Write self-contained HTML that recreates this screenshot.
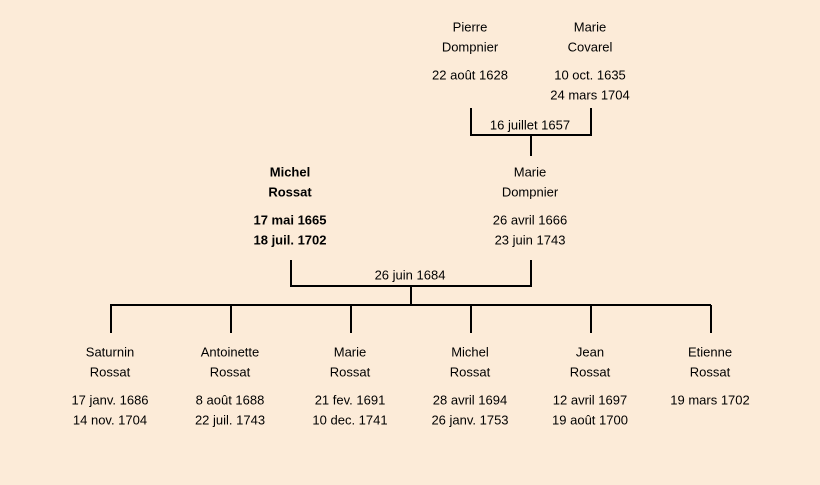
<!DOCTYPE html>
<html><head><meta charset="utf-8"><style>
html,body{margin:0;padding:0;background:#fcebd8;}
svg{display:block}
text{font-family:"Comic Sans MS","Liberation Sans",sans-serif;font-size:13px;fill:#000;text-anchor:middle;dominant-baseline:central}
.b{font-weight:bold}
</style></head><body>
<svg width="820" height="485" viewBox="0 0 820 485">
<rect width="820" height="485" fill="#fcebd8"/>
<g stroke="#000" stroke-width="2" fill="none">
<path d="M471 108V135H591V108M531 135V156"/>
<path d="M291 260V286H531V260M411 286V305M110 305H711M111 305V333M231 305V333M351 305V333M471 305V333M591 305V333M711 305V333"/>
</g>
<text x="470" y="27">Pierre</text><text x="470" y="47">Dompnier</text><text x="470" y="75">22 août 1628</text>
<text x="590" y="27">Marie</text><text x="590" y="47">Covarel</text><text x="590" y="75">10 oct. 1635</text><text x="590" y="95">24 mars 1704</text>
<text x="530" y="125">16 juillet 1657</text>
<text class="b" x="290" y="172">Michel</text><text class="b" x="290" y="192">Rossat</text><text class="b" x="290" y="220">17 mai 1665</text><text class="b" x="290" y="240">18 juil. 1702</text>
<text x="530" y="172">Marie</text><text x="530" y="192">Dompnier</text><text x="530" y="220">26 avril 1666</text><text x="530" y="240">23 juin 1743</text>
<text x="410" y="275">26 juin 1684</text>
<text x="110" y="352">Saturnin</text><text x="110" y="372">Rossat</text><text x="110" y="400">17 janv. 1686</text><text x="110" y="420">14 nov. 1704</text>
<text x="230" y="352">Antoinette</text><text x="230" y="372">Rossat</text><text x="230" y="400">8 août 1688</text><text x="230" y="420">22 juil. 1743</text>
<text x="350" y="352">Marie</text><text x="350" y="372">Rossat</text><text x="350" y="400">21 fev. 1691</text><text x="350" y="420">10 dec. 1741</text>
<text x="470" y="352">Michel</text><text x="470" y="372">Rossat</text><text x="470" y="400">28 avril 1694</text><text x="470" y="420">26 janv. 1753</text>
<text x="590" y="352">Jean</text><text x="590" y="372">Rossat</text><text x="590" y="400">12 avril 1697</text><text x="590" y="420">19 août 1700</text>
<text x="710" y="352">Etienne</text><text x="710" y="372">Rossat</text><text x="710" y="400">19 mars 1702</text>
</svg>
</body></html>
